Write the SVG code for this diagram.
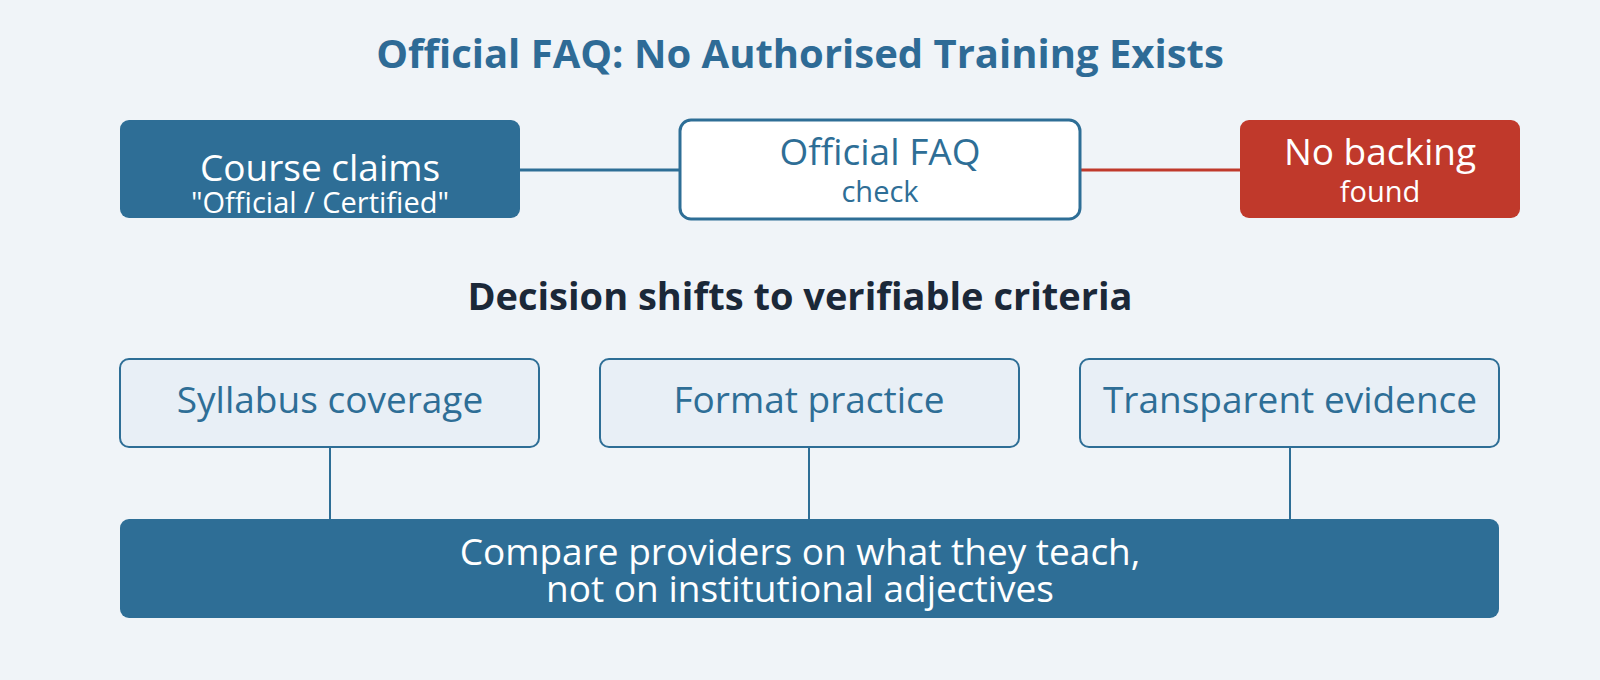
<svg xmlns="http://www.w3.org/2000/svg" width="1600" height="680" viewBox="0 0 1600 680">
<style>
text{font-family:"Open Sans","Noto Sans","DejaVu Sans",sans-serif;text-anchor:middle}
.title{font-size:40px;font-weight:700;fill:#2e6b96}
.sub{font-size:38px;font-weight:700;fill:#1b2838}
.big{font-size:37px}
.small{font-size:29px}
.w{fill:#ffffff}
.b{fill:#2e6e96}
.crit{fill:#e8eff6;stroke:#2e6e96;stroke-width:2}
.conn{stroke:#2e6e96;stroke-width:3;fill:none}
.vconn{stroke:#2e6e96;stroke-width:2;fill:none}
</style>
<rect width="1600" height="680" fill="#f0f4f8"/>
<text class="title" x="800" y="68">Official FAQ: No Authorised Training Exists</text>
<g id="connectors">
<line class="conn" x1="520" y1="170" x2="680" y2="170"/>
<line x1="1080" y1="170" x2="1240" y2="170" stroke="#c0392b" stroke-width="3"/>
<line class="vconn" x1="330" y1="447" x2="330" y2="519"/>
<line class="vconn" x1="809" y1="447" x2="809" y2="519"/>
<line class="vconn" x1="1290" y1="447" x2="1290" y2="519"/>
</g>
<g id="course">
<rect x="120" y="120" width="400" height="98" rx="9" fill="#2e6e96"/>
<text class="big w" x="320" y="181">Course claims</text>
<text class="small w" x="320" y="213">"Official / Certified"</text>
</g>
<g id="faq">
<rect x="680" y="120" width="400" height="99" rx="11" fill="#ffffff" stroke="#2e6e96" stroke-width="3"/>
<text class="big b" x="880" y="165">Official FAQ</text>
<text class="small b" x="880" y="202">check</text>
</g>
<g id="nobacking">
<rect x="1240" y="120" width="280" height="98" rx="9" fill="#c0392b"/>
<text class="big w" x="1380" y="165">No backing</text>
<text class="small w" x="1380" y="202">found</text>
</g>
<text class="sub" x="800" y="310">Decision shifts to verifiable criteria</text>
<g id="syllabus">
<rect class="crit" x="120" y="359" width="419" height="88" rx="9"/>
<text class="big b" x="330" y="413">Syllabus coverage</text>
</g>
<g id="format">
<rect class="crit" x="600" y="359" width="419" height="88" rx="9"/>
<text class="big b" x="809" y="413">Format practice</text>
</g>
<g id="evidence">
<rect class="crit" x="1080" y="359" width="419" height="88" rx="9"/>
<text class="big b" x="1290" y="413">Transparent evidence</text>
</g>
<g id="compare">
<rect x="120" y="519" width="1379" height="99" rx="9" fill="#2e6e96"/>
<text class="big w" x="800" y="565">Compare providers on what they teach,</text>
<text class="big w" x="800" y="602">not on institutional adjectives</text>
</g>
</svg>
